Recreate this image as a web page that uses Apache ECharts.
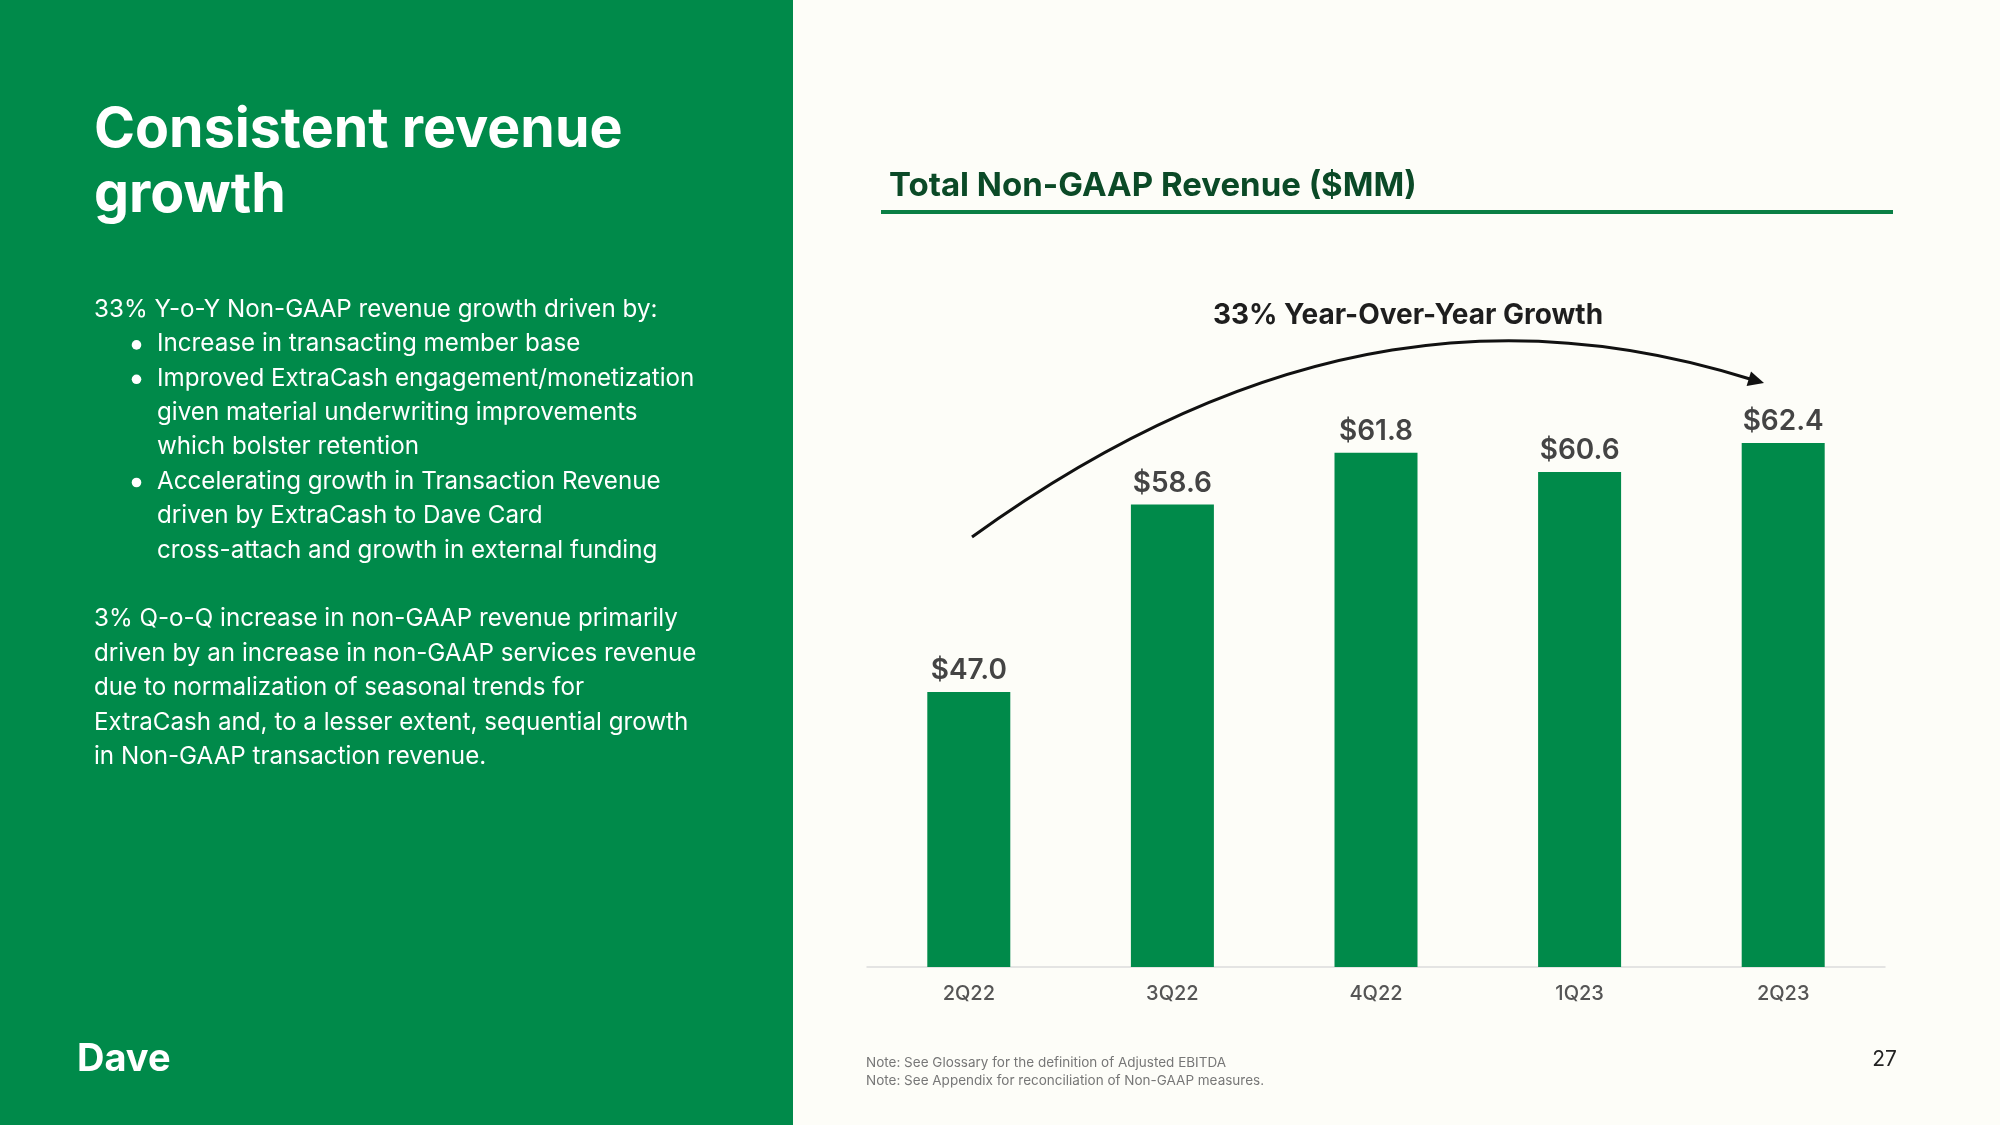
<!DOCTYPE html>
<html>
<head>
<meta charset="utf-8">
<script src="https://cdn.jsdelivr.net/npm/echarts@6/dist/echarts.min.js"></script>
<style>
html,body{margin:0;padding:0;background:#FDFDF8;}
#c{width:2000px;height:1125px;}
</style>
</head>
<body>
<div id="c"></div>
<script>
// ---- Data ----
var categories = ['2Q22', '3Q22', '4Q22', '1Q23', '2Q23'];
var revenue = [47.0, 58.6, 61.8, 60.6, 62.4];
var chartTitle = 'Total Non-GAAP Revenue ($MM)';
var growthNote = '33% Year-Over-Year Growth';
var pageTitle = ['Consistent revenue', 'growth'];
var bodyLines = [
  {t: '33% Y-o-Y Non-GAAP revenue growth driven by:', b: false, indent: false},
  {t: 'Increase in transacting member base', b: true, indent: true},
  {t: 'Improved ExtraCash engagement/monetization', b: true, indent: true},
  {t: 'given material underwriting improvements', b: false, indent: true},
  {t: 'which bolster retention', b: false, indent: true},
  {t: 'Accelerating growth in Transaction Revenue', b: true, indent: true},
  {t: 'driven by ExtraCash to Dave Card', b: false, indent: true},
  {t: 'cross-attach and growth in external funding', b: false, indent: true},
  null,
  {t: '3% Q-o-Q increase in non-GAAP revenue primarily', b: false, indent: false},
  {t: 'driven by an increase in non-GAAP services revenue', b: false, indent: false},
  {t: 'due to normalization of seasonal trends for', b: false, indent: false},
  {t: 'ExtraCash and, to a lesser extent, sequential growth', b: false, indent: false},
  {t: 'in Non-GAAP transaction revenue.', b: false, indent: false}
];
var notes = ['Note: See Glossary for the definition of Adjusted EBITDA', 'Note: See Appendix for reconciliation of Non-GAAP measures.'];
var pageNumber = '27';

var GREEN = '#008A4A';
var FONT = 'Inter, "Noto Sans", sans-serif';

var chart = echarts.init(document.getElementById('c'), null, {renderer: 'canvas'});

var graphics = [];
// left panel
graphics.push({type: 'rect', left: 0, top: 0, z: -10, shape: {width: 793, height: 1125}, style: {fill: GREEN}});
// title
pageTitle.forEach(function (t, i) {
  graphics.push({type: 'text', x: 94, y: [130, 195.5][i], style: {text: t, fill: '#fff', font: 'bold 55.5px ' + FONT, verticalAlign: 'middle'}});
});
// body
bodyLines.forEach(function (l, i) {
  if (!l) return;
  var y = 309.5 + i * 34.4;
  graphics.push({type: 'text', x: l.indent ? 157 : 94, y: y, style: {text: l.t, fill: '#fff', font: '24.2px ' + FONT, verticalAlign: 'middle'}});
  if (l.b) {
    graphics.push({type: 'circle', shape: {cx: 136.5, cy: y + 1, r: 4.8}, style: {fill: '#fff'}});
  }
});
// logo
graphics.push({type: 'text', x: 77, y: 1060, style: {text: 'Dave', fill: '#fff', font: 'bold 38px ' + FONT, verticalAlign: 'middle'}});
// chart title + rule
graphics.push({type: 'text', x: 889, y: 186, style: {text: chartTitle, fill: '#0B4A27', font: 'bold 33px ' + FONT, verticalAlign: 'middle'}});
graphics.push({type: 'rect', shape: {x: 881, y: 210, width: 1012, height: 4}, style: {fill: '#0A7F45'}});
// growth annotation
graphics.push({type: 'text', x: 1408, y: 316, style: {text: growthNote, fill: '#1E1E1E', font: 'bold 28px ' + FONT, align: 'center', verticalAlign: 'middle'}});
graphics.push({type: 'bezierCurve', shape: {x1: 972, y1: 537, cpx1: 1275, cpy1: 318, cpx2: 1530, cpy2: 310, x2: 1750, y2: 379}, style: {stroke: '#111', lineWidth: 3, fill: null}});
graphics.push({type: 'polygon', shape: {points: [[1764, 383], [1746.6, 386], [1751, 371.6]]}, style: {fill: '#111'}});
// notes
notes.forEach(function (t, i) {
  graphics.push({type: 'text', x: 866, y: [1063, 1081][i], style: {text: t, fill: '#777', font: '13.5px ' + FONT, verticalAlign: 'middle'}});
});
graphics.push({type: 'text', x: 1897, y: 1060, style: {text: pageNumber, fill: '#222', font: '21px ' + FONT, align: 'right', verticalAlign: 'middle'}});

chart.setOption({
  backgroundColor: '#FDFDF8',
  animation: false,
  grid: {left: 867, right: 115, top: 320, bottom: 158},
  xAxis: {
    type: 'category',
    data: categories,
    axisLine: {lineStyle: {color: '#DCDCDC', width: 1.5}},
    axisTick: {show: false},
    axisLabel: {color: '#555', fontSize: 20, fontWeight: 500, fontFamily: FONT, margin: 17}
  },
  yAxis: {type: 'value', min: 30, max: 70, show: false, splitLine: {show: false}},
  series: [{
    type: 'bar',
    data: revenue,
    barWidth: 83,
    itemStyle: {color: GREEN},
    label: {
      show: true, position: 'top', distance: 7,
      formatter: function (p) { return '$' + p.value.toFixed(1); },
      color: '#444', fontSize: 28, fontWeight: 600, fontFamily: FONT
    }
  }],
  graphic: graphics
});
</script>
</body>
</html>
